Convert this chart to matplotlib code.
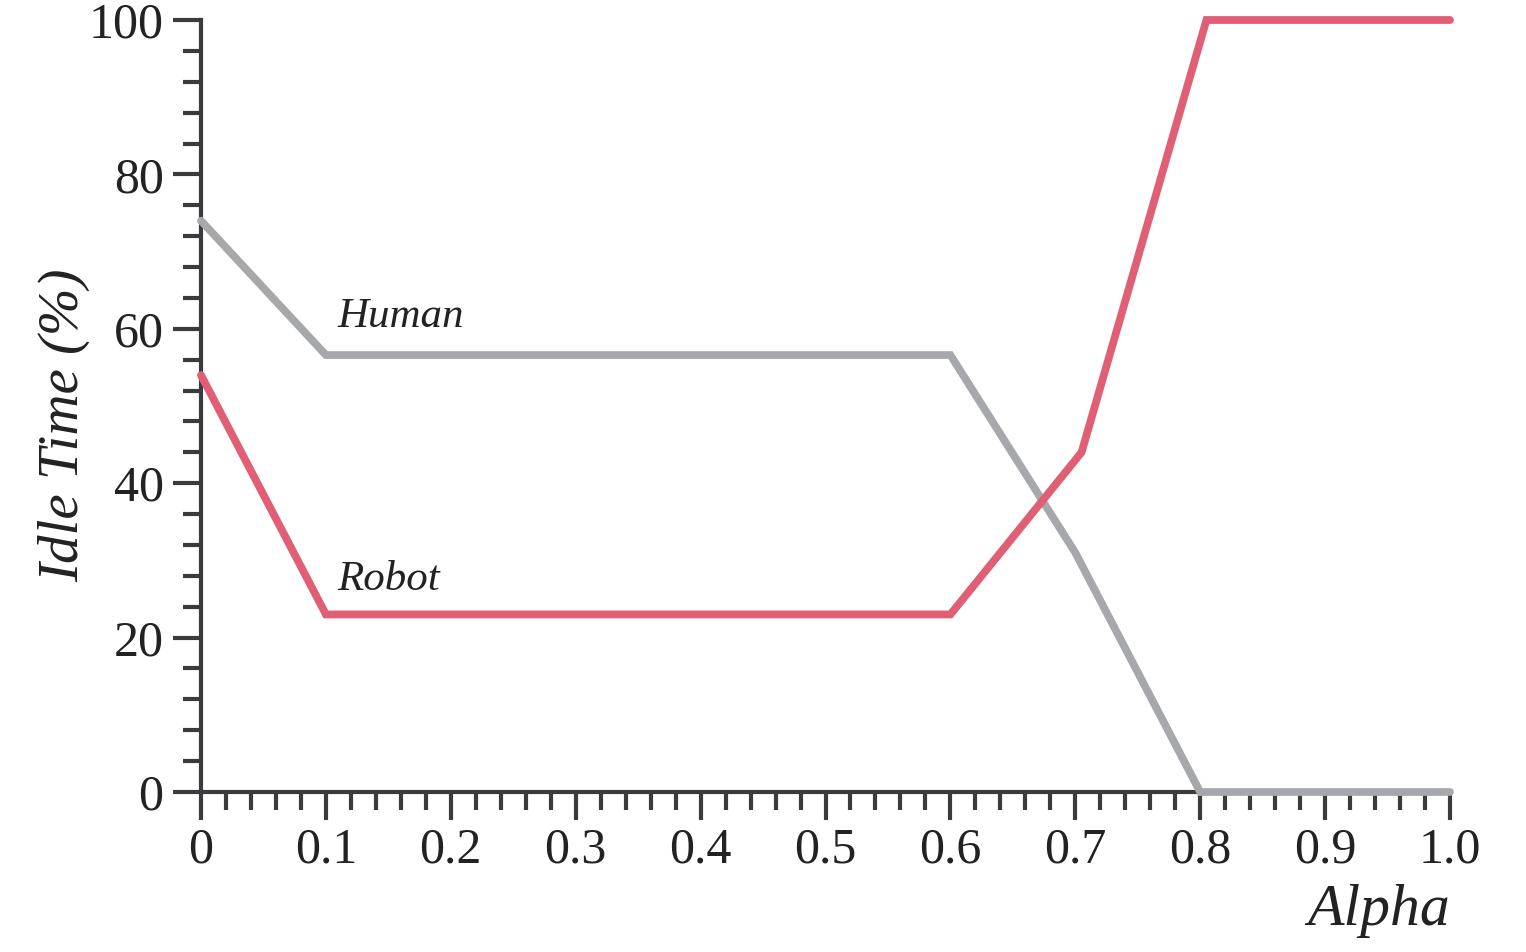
import matplotlib
matplotlib.use("Agg")
import matplotlib.pyplot as plt
from matplotlib.ticker import MultipleLocator

alpha_human = [0.0, 0.1, 0.6, 0.7, 0.8, 1.0]
idle_human = [74, 56.6, 56.6, 31, 0, 0]
alpha_robot = [0.0, 0.1, 0.6, 0.705, 0.805, 1.0]
idle_robot = [54, 23, 23, 44, 100, 100]
x_ticks = [0, 0.1, 0.2, 0.3, 0.4, 0.5, 0.6, 0.7, 0.8, 0.9, 1.0]
x_labels = ["0", "0.1", "0.2", "0.3", "0.4", "0.5", "0.6", "0.7", "0.8", "0.9", "1.0"]
y_ticks = [0, 20, 40, 60, 80, 100]

plt.rcParams['font.family'] = ['Liberation Serif', 'DejaVu Serif']

fig = plt.figure(figsize=(15.26, 9.52), dpi=100)
ax = fig.add_axes([201/1526, 1-792/952, (1450-201)/1526, (792-20)/952])

gray = "#a7a8ac"
red = "#e05f75"
axc = "#3b3b3d"
txt = "#222222"

ax.plot(alpha_human, idle_human, color=gray, lw=5.6, solid_capstyle='round', solid_joinstyle='miter', zorder=3, clip_on=False)
ax.plot(alpha_robot, idle_robot, color=red, lw=5.6, solid_capstyle='round', solid_joinstyle='miter', zorder=4, clip_on=False)

ax.set_xlim(0, 1.0)
ax.set_ylim(0, 100)
for s in ['top', 'right']:
    ax.spines[s].set_visible(False)
for s in ['left', 'bottom']:
    ax.spines[s].set_color(axc)
    ax.spines[s].set_linewidth(3)
    ax.spines[s].set_zorder(2)

ax.set_xticks(x_ticks)
ax.set_xticklabels(x_labels)
ax.set_yticks(y_ticks)
ax.xaxis.set_minor_locator(MultipleLocator(0.02))
ax.yaxis.set_minor_locator(MultipleLocator(4))
ax.tick_params(which='major', length=20, width=3, color=axc, labelsize=36, labelcolor=txt, pad=5)
ax.tick_params(which='minor', length=13, width=3, color=axc)
ax.tick_params(axis='y', which='major', pad=7)

ax.set_ylabel("Idle Time (%)", fontsize=41, style='italic', color=txt)
ax.yaxis.set_label_coords(-0.089, 0.475)
fig.text(1450/1526, 1-925/952, "Alpha", fontsize=43, style='italic', color=txt, ha='right', va='baseline')

ax.text(0.109, 61.5, "Human", fontsize=31, style='italic', color=txt, ha='left', va='center')
ax.text(0.109, 27.5, "Robot", fontsize=31, style='italic', color=txt, ha='left', va='center')

fig.savefig("out.png", dpi=100)
